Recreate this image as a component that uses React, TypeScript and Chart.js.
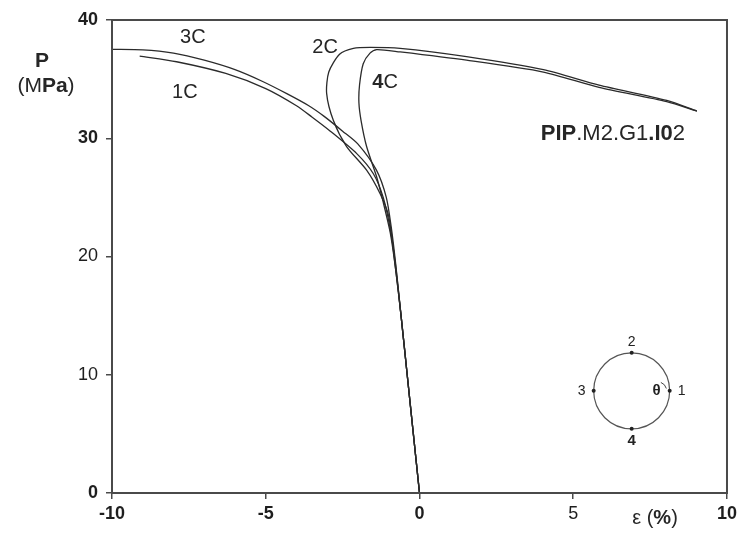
import React, { useEffect, useRef } from "react";
import { Chart, registerables } from "chart.js";
Chart.register(...registerables);

const FONT = "'Liberation Sans', Arial, Helvetica, sans-serif";

// Axis ticks
const xTicks = [-10, -5, 0, 5, 10];
const yTicks = [0, 10, 20, 30, 40];

// Curve 3C (strain %, pressure MPa)
const c3x = [-10, -9, -8, -7, -6, -5.1, -4.3, -3.6, -3.1, -2.5, -2.0, -1.4, -1.08, -0.92, -0.78, -0.6, -0.4, -0.2, 0];
const c3y = [37.52, 37.48, 37.2, 36.6, 35.8, 34.8, 33.75, 32.75, 31.85, 30.6, 29.5, 27.3, 25.0, 22.5, 19.5, 15, 10, 5, 0];

// Curve 1C
const c1x = [-9.1, -7.9, -6.3, -5.0, -4.0, -3.5, -2.9, -2.04, -1.5, -1.18, -0.95, -0.78, -0.6, -0.4, -0.2, 0];
const c1y = [36.95, 36.47, 35.48, 34.2, 32.75, 31.8, 30.6, 28.7, 27.0, 25.0, 22.3, 19.3, 15, 10, 5, 0];

// Curve 2C
const c2x = [0, -0.2, -0.4, -0.6, -0.78, -1.0, -1.28, -1.72, -2.37, -2.8, -3.02, -2.95, -2.6, -2.15, -1.6, -0.63, 1.53, 4.03, 5.84, 8.04, 9.02];
const c2y = [0, 5, 10, 15, 19, 23.4, 25.3, 27.3, 29.3, 31.5, 33.8, 35.6, 37.1, 37.6, 37.68, 37.6, 36.9, 35.8, 34.5, 33.2, 32.3];

// Curve 4C
const c4x = [0, -0.2, -0.4, -0.6, -0.78, -0.95, -1.19, -1.39, -1.72, -1.9, -1.97, -1.95, -1.83, -1.61, -1.39, -0.63, 1.53, 4.03, 5.84, 8.04, 9.02];
const c4y = [0, 5, 10, 15, 19, 22, 24.7, 26.7, 29.3, 31.5, 33.0, 34.5, 36.3, 37.2, 37.5, 37.3, 36.6, 35.6, 34.3, 33.1, 32.3];

const seriesNames = ["1C", "2C", "3C", "4C"];

const toPts = (xs: number[], ys: number[]) => xs.map((x, i) => ({ x, y: ys[i] }));

type Seg = [string, boolean];

function drawSegs(ctx: CanvasRenderingContext2D, segs: Seg[], cx: number, cy: number, size: number) {
  let total = 0;
  const widths = segs.map(([t, b]) => {
    ctx.font = `${b ? "bold " : ""}${size}px ${FONT}`;
    const w = ctx.measureText(t).width;
    total += w;
    return w;
  });
  let x = cx - total / 2;
  ctx.textAlign = "left";
  ctx.textBaseline = "middle";
  segs.forEach(([t, b], i) => {
    ctx.font = `${b ? "bold " : ""}${size}px ${FONT}`;
    ctx.fillText(t, x, cy);
    x += widths[i];
  });
}

const decorPlugin = {
  id: "decor",
  afterDraw(chart: any) {
    const { ctx, chartArea, scales } = chart;
    const { left, top, right, bottom } = chartArea;
    const xs = scales.x;
    const ys = scales.y;
    ctx.save();
    // frame
    ctx.strokeStyle = "#4a4a4a";
    ctx.lineWidth = 2;
    ctx.strokeRect(left, top, right - left, bottom - top);

    ctx.fillStyle = "#262626";
    // curve labels
    const lab = (segs: Seg[], vx: number, vy: number, size: number) =>
      drawSegs(ctx, segs, xs.getPixelForValue(vx), ys.getPixelForValue(vy), size);
    lab([[seriesNames[2], false]], -7.37, 38.5, 20);
    lab([[seriesNames[0], false]], -7.63, 33.9, 20);
    lab([[seriesNames[1], false]], -3.07, 37.7, 20);
    lab([["4", true], ["C", false]], -1.12, 34.7, 20);
    lab([["PIP", true], [".M2.G1", false], [".I0", true], ["2", false]], 6.29, 30.4, 22);

    // axis titles
    drawSegs(ctx, [["P", true]], 42, 61, 21);
    drawSegs(ctx, [["(M", false], ["Pa", true], [")", false]], 46, 86, 21);
    drawSegs(ctx, [["ε", false], [" (", false], ["%", true], [")", false]], 655, 518, 20);

    // inset circle
    const cx = xs.getPixelForValue(6.9);
    const cy = ys.getPixelForValue(8.64);
    const r = 38;
    ctx.strokeStyle = "#555";
    ctx.lineWidth = 1.2;
    ctx.beginPath();
    ctx.arc(cx, cy, r, 0, Math.PI * 2);
    ctx.stroke();
    ctx.fillStyle = "#222";
    [[r, 0], [0, -r], [-r, 0], [0, r]].forEach(([dx, dy]) => {
      ctx.beginPath();
      ctx.arc(cx + dx, cy + dy, 2, 0, Math.PI * 2);
      ctx.fill();
    });
    drawSegs(ctx, [["2", false]], cx, cy - 49, 14);
    drawSegs(ctx, [["3", false]], cx - 50, cy, 14);
    drawSegs(ctx, [["1", false]], cx + 50, cy, 14);
    drawSegs(ctx, [["4", true]], cx, cy + 50, 15);
    drawSegs(ctx, [["θ", true]], cx + 25, cy, 15);
    ctx.lineWidth = 1;
    ctx.strokeStyle = "#444";
    ctx.beginPath();
    ctx.arc(cx + 26, cy, 9, -Math.PI / 2.6, -Math.PI / 12);
    ctx.stroke();
    ctx.restore();
  },
};

export default function App() {
  const ref = useRef<HTMLCanvasElement>(null);
  useEffect(() => {
    if (!ref.current) return;
    const lineStyle = {
      borderColor: "#2b2b2b",
      borderWidth: 1.3,
      pointRadius: 0,
      showLine: true,
      tension: 0.25,
      fill: false,
    };
    const boldX = [-10, -5, 0, 10];
    const boldY = [0, 30, 40];
    const chart = new Chart(ref.current, {
      type: "scatter",
      data: {
        datasets: [
          { label: seriesNames[0], data: toPts(c1x, c1y), ...lineStyle },
          { label: seriesNames[1], data: toPts(c2x, c2y), ...lineStyle },
          { label: seriesNames[2], data: toPts(c3x, c3y), ...lineStyle },
          { label: seriesNames[3], data: toPts(c4x, c4y), ...lineStyle },
        ],
      },
      options: {
        responsive: false,
        animation: false,
        layout: { padding: { top: 20, right: 14, left: 0, bottom: 0 } },
        plugins: { legend: { display: false }, tooltip: { enabled: false } },
        scales: {
          x: {
            type: "linear",
            min: -10,
            max: 10,
            afterBuildTicks: (s: any) => {
              s.ticks = xTicks.map((v) => ({ value: v }));
            },
            afterFit: (s: any) => {
              s.height = 41;
            },
            border: { display: false },
            grid: { drawOnChartArea: false, drawTicks: true, tickLength: 6, color: "#4a4a4a", lineWidth: 1.5 },
            ticks: {
              padding: 4,
              color: "#1e1e1e",
              font: (c: any) => ({ family: FONT, size: 18, weight: boldX.includes(c.tick?.value) ? "bold" : "normal" }),
            },
          },
          y: {
            type: "linear",
            min: 0,
            max: 40,
            afterBuildTicks: (s: any) => {
              s.ticks = yTicks.map((v) => ({ value: v }));
            },
            afterFit: (s: any) => {
              s.width = 112;
            },
            border: { display: false },
            grid: { drawOnChartArea: false, drawTicks: true, tickLength: 6, color: "#4a4a4a", lineWidth: 1.5 },
            ticks: {
              padding: 8,
              color: "#1e1e1e",
              font: (c: any) => ({ family: FONT, size: 18, weight: boldY.includes(c.tick?.value) ? "bold" : "normal" }),
            },
          },
        },
      },
      plugins: [decorPlugin],
    } as any);
    return () => chart.destroy();
  }, []);
  return (
    <div style={{ position: "absolute", left: 0, top: 0, width: 741, height: 534, background: "#fff" }}>
      <canvas ref={ref} width={741} height={534} />
    </div>
  );
}
